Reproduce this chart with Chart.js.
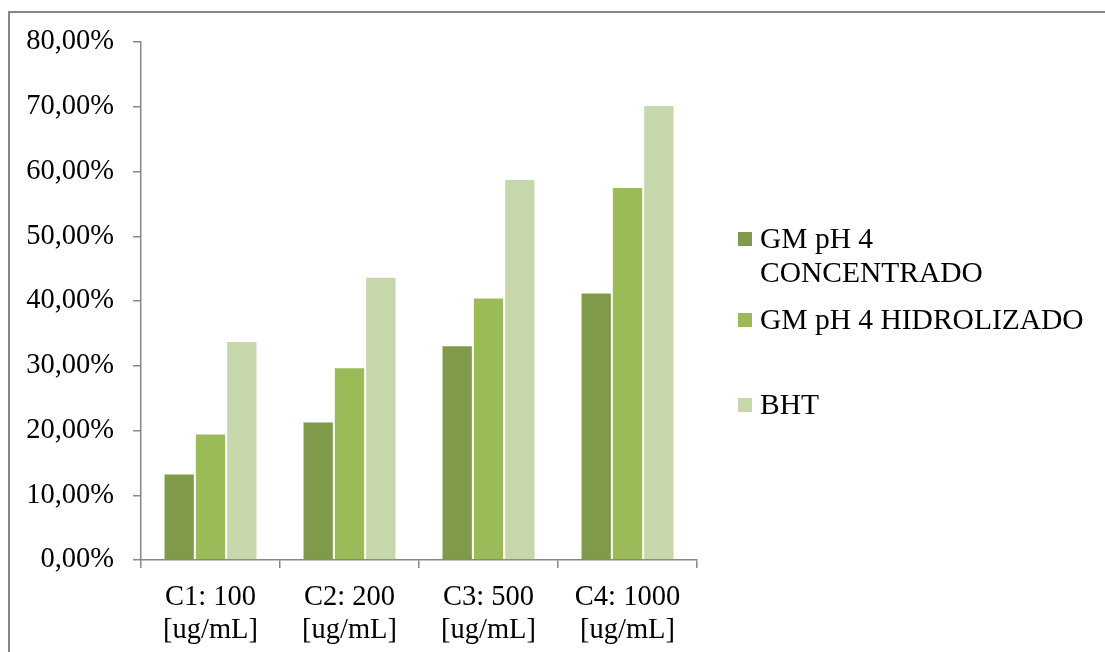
<!DOCTYPE html>
<html>
<head>
<meta charset="utf-8">
<script src="https://cdn.jsdelivr.net/npm/chart.js@4"></script>
<style>
  body { margin: 0; background: #fff; }
  #wrap { position: relative; width: 1105px; height: 652px; overflow: hidden; }
  #frame { position: absolute; left: 8px; top: 11px; width: 2000px; height: 2000px;
           border-left: 2px solid #878787; border-top: 2px solid #878787; }
  #chart { position: absolute; left: 0; top: 0; }
  #legend { position: absolute; left: 738px; top: 0; font-family: "Liberation Serif", "Times New Roman", serif;
            font-size: 29.5px; line-height: 34px; color: #000; }
  .item { position: absolute; left: 0; white-space: nowrap; }
  .sw { position: absolute; left: 0; top: 11px; width: 14px; height: 14px; }
  .txt { position: absolute; left: 22px; top: 0; }
</style>
</head>
<body>
<div id="wrap">
  <div id="frame"></div>
  <canvas id="chart" width="1105" height="652"></canvas>
  <div id="legend"></div>
</div>
<script>
const categories = [['C1: 100', '[ug/mL]'], ['C2: 200', '[ug/mL]'], ['C3: 500', '[ug/mL]'], ['C4: 1000', '[ug/mL]']];
const seriesNames = [['GM pH 4', 'CONCENTRADO'], ['GM pH 4 HIDROLIZADO'], ['BHT']];
const concentrado = [13.35, 21.39, 33.18, 41.32];
const hidrolizado = [19.53, 29.78, 40.55, 57.60];
const bht = [33.84, 43.75, 58.83, 70.27];
const yTickLabels = ['0,00%', '10,00%', '20,00%', '30,00%', '40,00%', '50,00%', '60,00%', '70,00%', '80,00%'];
const colors = ['#7F9A48', '#9BBB59', '#C6D7AC'];

const serif = '"Liberation Serif", "Times New Roman", serif';
const axisGray = '#878787';
const allSeries = [concentrado, hidrolizado, bht];

new Chart(document.getElementById('chart'), {
  type: 'bar',
  data: {
    labels: categories,
    datasets: allSeries.map((d, i) => ({
      label: seriesNames[i].join(' '),
      data: d,
      backgroundColor: colors[i],
      borderColor: 'rgba(255,255,255,0.55)',
      borderWidth: 1,
      categoryPercentage: 0.676,
      barPercentage: 1
    }))
  },
  options: {
    responsive: false,
    animation: false,
    layout: { padding: { top: 42, right: 408, left: 0, bottom: 0 } },
    plugins: { legend: { display: false }, tooltip: { enabled: false } },
    scales: {
      x: {
        afterFit: s => { s.height = 92; },
        grid: { drawOnChartArea: false, tickLength: 8, color: axisGray, lineWidth: 1.5 },
        border: { color: axisGray, width: 1.5 },
        ticks: { color: '#000', padding: 13, maxRotation: 0, font: { family: serif, size: 28.5, lineHeight: 1.15 } }
      },
      y: {
        min: 0, max: 80,
        afterFit: s => { s.width = 141; },
        grid: { drawOnChartArea: false, tickLength: 8, color: axisGray, lineWidth: 1.5 },
        border: { color: axisGray, width: 1.5 },
        ticks: {
          stepSize: 10, color: '#000', padding: 19,
          font: { family: serif, size: 28.5 },
          callback: (v, i) => yTickLabels[i]
        }
      }
    }
  }
});

// legend
const legendTops = [221, 302, 387];
const legend = document.getElementById('legend');
seriesNames.forEach((name, i) => {
  const it = document.createElement('div');
  it.className = 'item';
  it.style.top = legendTops[i] + 'px';
  it.innerHTML = '<div class="sw" style="background:' + colors[i] + '"></div><div class="txt">' + name.join('<br>') + '</div>';
  legend.appendChild(it);
});
</script>
</body>
</html>
